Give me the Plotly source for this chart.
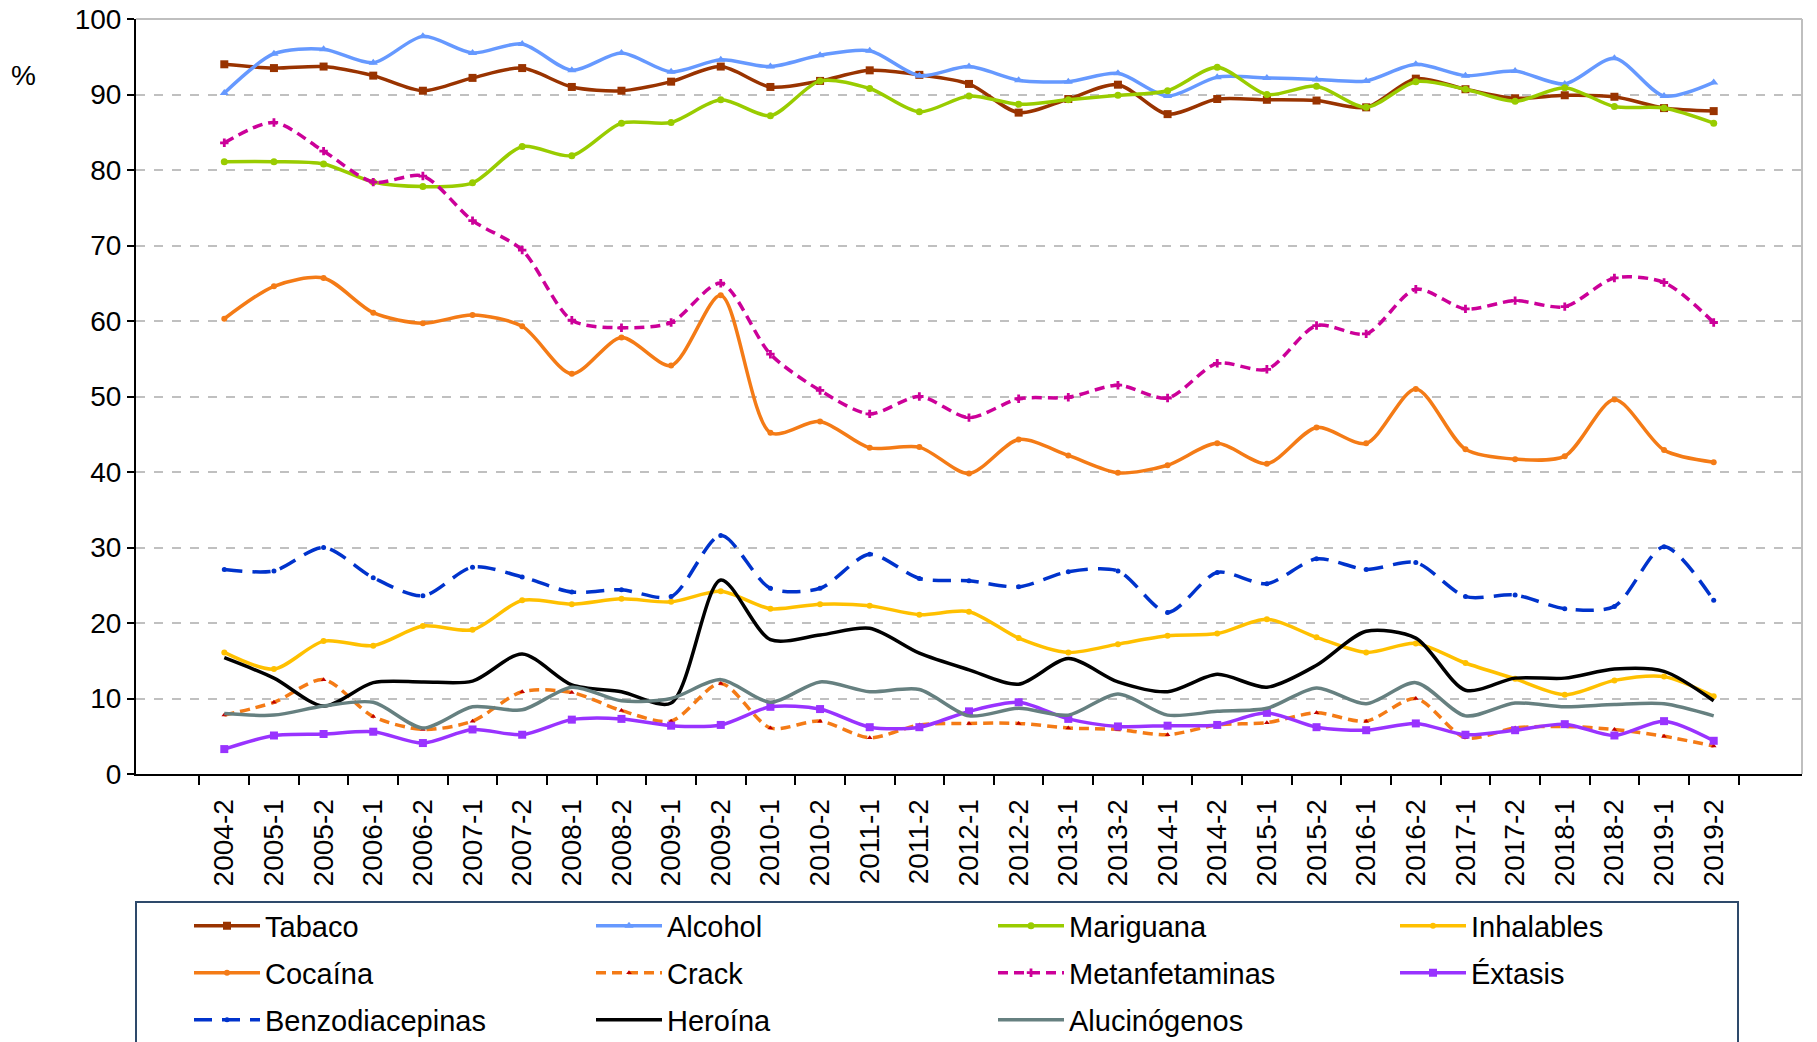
import plotly.graph_objects as go

periods = ["2004-2", "2005-1", "2005-2", "2006-1", "2006-2", "2007-1", "2007-2", "2008-1",
           "2008-2", "2009-1", "2009-2", "2010-1", "2010-2", "2011-1", "2011-2", "2012-1",
           "2012-2", "2013-1", "2013-2", "2014-1", "2014-2", "2015-1", "2015-2", "2016-1",
           "2016-2", "2017-1", "2017-2", "2018-1", "2018-2", "2019-1", "2019-2"]

tabaco = [94.0, 93.5, 93.7, 92.5, 90.5, 92.2, 93.5, 91.0, 90.5, 91.7, 93.7, 91.0, 91.8, 93.2,
          92.6, 91.4, 87.6, 89.4, 91.3, 87.4, 89.4, 89.3, 89.2, 88.3, 92.1, 90.7, 89.5, 89.9,
          89.7, 88.2, 87.8]
alcohol = [90.2, 95.4, 96.0, 94.2, 97.7, 95.5, 96.7, 93.2, 95.5, 93.0, 94.6, 93.7, 95.2, 95.8,
           92.5, 93.7, 91.9, 91.7, 92.8, 89.8, 92.3, 92.2, 92.0, 91.8, 94.0, 92.5, 93.1, 91.4,
           94.8, 89.8, 91.6]
mariguana = [81.1, 81.1, 80.8, 78.4, 77.8, 78.3, 83.1, 81.9, 86.2, 86.3, 89.3, 87.2, 91.8, 90.8,
             87.7, 89.8, 88.7, 89.3, 89.9, 90.5, 93.6, 90.0, 91.1, 88.3, 91.7, 90.7, 89.1, 90.9,
             88.4, 88.2, 86.2]
inhalables = [16.1, 13.9, 17.6, 17.0, 19.6, 19.1, 23.0, 22.5, 23.2, 22.8, 24.2, 21.9, 22.5, 22.3,
              21.1, 21.5, 18.0, 16.1, 17.2, 18.3, 18.6, 20.5, 18.1, 16.1, 17.3, 14.7, 12.6, 10.5,
              12.4, 12.9, 10.3]
cocaina = [60.3, 64.6, 65.7, 61.1, 59.7, 60.8, 59.3, 53.0, 57.8, 54.1, 63.4, 45.2, 46.7, 43.2,
           43.3, 39.8, 44.3, 42.2, 39.9, 40.9, 43.8, 41.1, 45.9, 43.8, 51.0, 43.0, 41.7, 42.1,
           49.6, 42.9, 41.3]
crack = [7.8, 9.5, 12.5, 7.6, 5.9, 7.0, 10.9, 10.8, 8.4, 7.0, 12.0, 6.1, 7.0, 4.8, 6.5, 6.7,
         6.7, 6.1, 5.9, 5.2, 6.5, 6.8, 8.1, 7.0, 10.0, 4.8, 6.1, 6.3, 5.9, 5.0, 3.7]
metanfetaminas = [83.6, 86.3, 82.5, 78.4, 79.2, 73.3, 69.4, 60.1, 59.1, 59.8, 65.0, 55.6, 50.8,
                  47.7, 50.0, 47.2, 49.7, 49.9, 51.5, 49.8, 54.4, 53.6, 59.4, 58.3, 64.2, 61.6,
                  62.7, 61.9, 65.7, 65.1, 59.8]
extasis = [3.3, 5.1, 5.3, 5.6, 4.1, 5.9, 5.2, 7.2, 7.3, 6.4, 6.5, 8.9, 8.6, 6.2, 6.2, 8.3, 9.5,
           7.3, 6.3, 6.4, 6.5, 8.1, 6.2, 5.8, 6.7, 5.2, 5.8, 6.6, 5.1, 7.0, 4.4]
benzodiacepinas = [27.1, 26.9, 30.0, 26.0, 23.6, 27.4, 26.1, 24.1, 24.4, 23.5, 31.6, 24.6, 24.6,
                   29.1, 25.9, 25.6, 24.8, 26.8, 26.9, 21.4, 26.7, 25.2, 28.5, 27.1, 28.0, 23.5,
                   23.7, 21.9, 22.2, 30.1, 23.0]
heroina = [15.4, 12.7, 9.0, 12.1, 12.2, 12.3, 15.9, 11.8, 10.9, 9.4, 25.7, 17.8, 18.4, 19.3,
           16.0, 13.8, 11.9, 15.3, 12.2, 10.9, 13.2, 11.5, 14.4, 18.9, 18.0, 11.1, 12.7, 12.7,
           13.9, 13.6, 9.7]
alucinogenos = [8.0, 7.8, 9.0, 9.5, 6.1, 8.9, 8.5, 11.5, 9.7, 10.0, 12.5, 9.5, 12.2, 10.9, 11.2,
                7.7, 8.7, 7.8, 10.6, 7.8, 8.3, 8.7, 11.4, 9.3, 12.1, 7.7, 9.4, 8.9, 9.2, 9.3, 7.7]

series = [
    ("Tabaco", tabaco, "#993300", "solid", "square", 8, None, "legend"),
    ("Alcohol", alcohol, "#6699FF", "solid", "triangle-up", 8, None, "legend"),
    ("Mariguana", mariguana, "#99CC00", "solid", "circle", 7, None, "legend"),
    ("Inhalables", inhalables, "#FFC000", "solid", "circle", 6, None, "legend"),
    ("Cocaína", cocaina, "#F47B16", "solid", "circle", 6, None, "legend2"),
    ("Crack", crack, "#F47B16", "10px,6px", "triangle-up", 5, "#C00000", "legend2"),
    ("Metanfetaminas", metanfetaminas, "#CC0099", "10px,6px", "cross", 7, None, "legend2"),
    ("Éxtasis", extasis, "#9933FF", "solid", "square", 8, None, "legend2"),
    ("Benzodiacepinas", benzodiacepinas, "#0033CC", "18px,10px", "circle", 5, None, "legend3"),
    ("Heroína", heroina, "#000000", "solid", None, 0, None, "legend3"),
    ("Alucinógenos", alucinogenos, "#668080", "solid", None, 0, None, "legend3"),
]

fig = go.Figure()
for name, vals, color, dash, sym, msize, mcolor, leg in series:
    mode = "lines+markers" if sym else "lines"
    kw = {}
    if sym:
        kw["marker"] = dict(symbol=sym, size=msize, color=mcolor or color)
    fig.add_trace(go.Scatter(
        x=periods, y=vals, name=name, mode=mode, legend=leg,
        line=dict(color=color, width=3.5, dash=dash, shape="spline", smoothing=0.8),
        **kw))

# page coordinates of the plot area (body margin removed by post_script)
W, H = 1817, 1042
PL, PR, PT, PB = 136, 1802, 18.5, 774
L, R, T, B = PL, W - PR, PT, H - PB
pw = PR - PL
ph = PB - PT


def px_x(p):
    return (p - PL) / pw


def px_y(p):
    return (PB - p) / ph


font_family = "Liberation Sans, Arial, sans-serif"


def leg(row_y):
    return dict(
        orientation="h", x=px_x(189), y=px_y(row_y), xanchor="left", yanchor="middle",
        entrywidth=321, entrywidthmode="pixels", itemwidth=66,
        font=dict(family=font_family, size=29, color="black"),
        bgcolor="rgba(0,0,0,0)", borderwidth=0, traceorder="normal",
    )


fig.update_layout(
    width=W, height=H,
    margin=dict(l=L, r=R, t=T, b=B, autoexpand=False),
    plot_bgcolor="white", paper_bgcolor="white",
    font=dict(family=font_family, size=28, color="black"),
    showlegend=True,
    legend=leg(926),
    legend2=leg(973),
    legend3=leg(1020),
    xaxis=dict(
        type="category", tickson="boundaries", ticks="outside", ticklen=9, tickwidth=2,
        tickcolor="black", showline=True, linecolor="black", linewidth=2,
        showgrid=False, tickangle=-90, tickfont=dict(size=28), automargin=False,
        ticklabelstandoff=12,
    ),
    yaxis=dict(
        range=[0, 100], dtick=10, ticks="outside", ticklen=7, tickwidth=2, tickcolor="black",
        showline=True, linecolor="black", linewidth=2, showgrid=True, gridcolor="#C0C0C0",
        gridwidth=2, griddash="dash", zeroline=False, tickfont=dict(size=28), automargin=False,
        ticklabeloverflow="allow",
    ),
    shapes=[
        dict(type="line", xref="paper", yref="paper", x0=0, x1=1, y0=1, y1=1,
             line=dict(color="#BFBFBF", width=2)),
        dict(type="line", xref="paper", yref="paper", x0=1, x1=1, y0=0, y1=1,
             line=dict(color="#BFBFBF", width=2)),
        dict(type="rect", xref="paper", yref="paper", x0=0, x1=px_x(1738),
             y0=px_y(1080), y1=px_y(902), line=dict(color="#2E4A6B", width=2),
             fillcolor="rgba(0,0,0,0)", layer="below"),
    ],
    annotations=[
        dict(text="%", xref="paper", yref="paper", x=px_x(23), y=px_y(75),
             showarrow=False, font=dict(size=28), xanchor="center", yanchor="middle"),
    ],
)

fig.write_html(
    "out.html",
    config={"displayModeBar": False},
    post_script="document.body.style.margin='0';document.body.style.overflow='hidden';",
)
